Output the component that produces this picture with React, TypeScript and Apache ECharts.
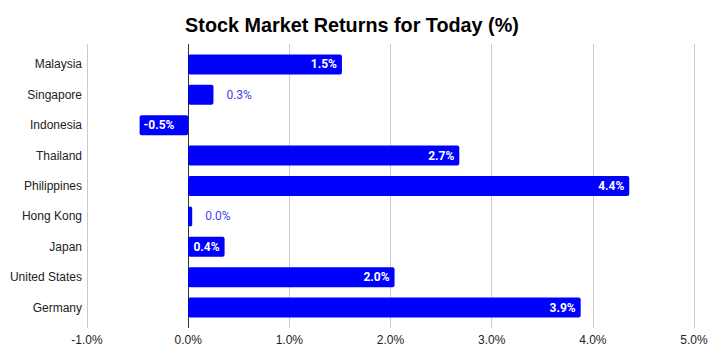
import React, { useEffect, useRef } from "react";
import * as echarts from "echarts";

const title = "Stock Market Returns for Today (%)";
const countries = [
  "Malaysia",
  "Singapore",
  "Indonesia",
  "Thailand",
  "Philippines",
  "Hong Kong",
  "Japan",
  "United States",
  "Germany",
];
const returns = [1.52, 0.25, -0.48, 2.68, 4.36, 0.04, 0.36, 2.04, 3.88];
const xMin = -1;
const xMax = 5;
const xInterval = 1;

export default function App() {
  const ref = useRef<HTMLDivElement>(null);
  useEffect(() => {
    if (!ref.current) return;
    const chart = echarts.init(ref.current, null, { renderer: "svg" });
    const fmt = (v: number) => v.toFixed(1) + "%";
    const data = returns.map((v) => {
      const outside = Math.abs(v) < 0.3;
      return {
        value: v,
        label: outside
          ? {
              show: true,
              position: "right",
              distance: 13,
              color: "#4444ee",
              fontWeight: "normal",
            }
          : {
              show: true,
              position: v < 0 ? "insideLeft" : "insideRight",
              distance: v < 0 ? 4 : 5,
              color: "#ffffff",
              fontWeight: "bold",
            },
      };
    });
    chart.setOption({
      animation: false,
      title: {
        text: title,
        left: 347,
        top: 10,
        textAlign: "center",
        textStyle: {
          fontFamily: "Liberation Sans",
          fontWeight: "bold",
          fontSize: 19.8,
          color: "#000000",
        },
      },
      grid: [
        { left: 87, width: 607, top: 44, height: 284, containLabel: false },
        { left: 87, width: 607, top: 49.3, height: 273.4, containLabel: false },
      ],
      xAxis: [
        {
          gridIndex: 0,
          type: "value",
          min: xMin,
          max: xMax,
          interval: xInterval,
          axisLine: { show: false },
          axisTick: { show: false },
          axisLabel: {
            formatter: (v: number) => v.toFixed(1) + "%",
            color: "#222222",
            fontFamily: "Liberation Sans",
            fontSize: 12,
            margin: 6,
          },
          splitLine: {
            show: true,
            lineStyle: {
              color: ["#cccccc", "#333333", "#cccccc", "#cccccc", "#cccccc", "#cccccc", "#cccccc"],
              width: 1,
            },
          },
        },
        {
          gridIndex: 1,
          type: "value",
          min: xMin,
          max: xMax,
          interval: xInterval,
          show: false,
        },
      ],
      yAxis: [
        {
          gridIndex: 0,
          type: "value",
          min: 0,
          max: 1,
          show: false,
        },
        {
          gridIndex: 1,
          type: "category",
          data: countries,
          inverse: true,
          axisLine: { show: false },
          axisTick: { show: false },
          splitLine: { show: false },
          axisLabel: {
            color: "#222222",
            fontFamily: "Liberation Sans",
            fontSize: 12,
            margin: 5,
          },
        },
      ],
      series: [
        {
          type: "bar",
          xAxisIndex: 1,
          yAxisIndex: 1,
          data,
          barWidth: 20,
          itemStyle: { color: "#0000ff", borderRadius: 2 },
          label: {
            show: true,
            formatter: (p: any) => fmt(p.value),
            fontFamily: "Roboto",
            fontSize: 12,
          },
        },
      ],
    });
    return () => chart.dispose();
  }, []);
  return (
    <div
      ref={ref}
      style={{ position: "fixed", left: 0, top: 0, width: 712, height: 361, background: "#fff" }}
    />
  );
}
